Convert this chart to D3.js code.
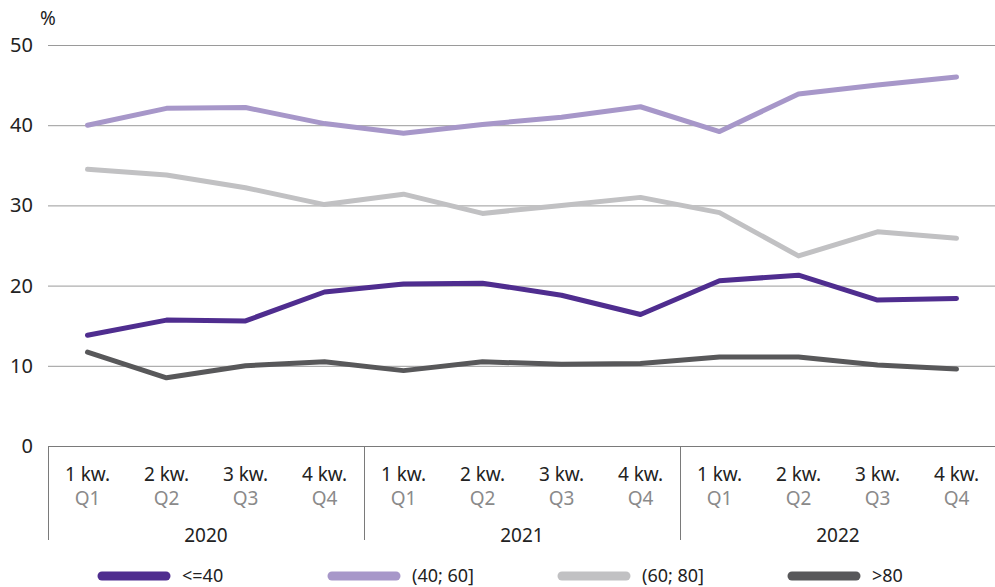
<!DOCTYPE html>
<html><head><meta charset="utf-8">
<script src="https://cdn.jsdelivr.net/npm/d3@7"></script>
<style>body{margin:0;background:#fff}svg{display:block;font-family:"Noto Sans",sans-serif}</style>
</head><body><svg id="c" width="995" height="587"></svg>
<script>
const quarters = ["1 kw.","2 kw.","3 kw.","4 kw.","1 kw.","2 kw.","3 kw.","4 kw.","1 kw.","2 kw.","3 kw.","4 kw."];
const quartersEn = ["Q1","Q2","Q3","Q4","Q1","Q2","Q3","Q4","Q1","Q2","Q3","Q4"];
const years = ["2020","2021","2022"];
const seriesNames = ["<=40","(40; 60]","(60; 80]",">80"];
const colors = ["#4f2d8f","#a797c9","#c1c1c3","#58585a"];
const s1 = [13.8,15.7,15.6,19.2,20.2,20.3,18.8,16.4,20.6,21.3,18.2,18.4];
const s2 = [40.0,42.1,42.2,40.2,39.0,40.1,41.0,42.3,39.2,43.9,45.0,46.0];
const s3 = [34.5,33.8,32.2,30.1,31.4,29.0,30.0,31.0,29.1,23.7,26.7,25.9];
const s4 = [11.7,8.5,10.0,10.5,9.4,10.5,10.2,10.3,11.1,11.1,10.1,9.6];
const yTicks = [0,10,20,30,40,50];
const series = [s1,s2,s3,s4];

const svg = d3.select("#c");
const L = 48, R = 996, T = 45, B = 446;
const idx = d3.range(quarters.length);
const x = d3.scaleBand().domain(idx).range([L,R]);
const y = d3.scaleLinear().domain([0,50]).range([B,T]);

svg.append("g").selectAll("line").data(yTicks.filter(d=>d>0)).join("line")
  .attr("x1",L).attr("x2",R).attr("y1",d=>y(d)+0.5).attr("y2",d=>y(d)+0.5)
  .attr("stroke","#9a9a9a").attr("stroke-width",1);
svg.append("g").selectAll("text").data(yTicks).join("text")
  .attr("x",33).attr("y",d=>y(d)).attr("dy","0.35em").attr("text-anchor","end")
  .attr("font-size",20).attr("fill","#222").text(d=>d);
svg.append("text").attr("x",40).attr("y",25).attr("font-size",19).attr("fill","#222").text("%");

svg.append("line").attr("x1",L).attr("x2",R).attr("y1",B+0.5).attr("y2",B+0.5).attr("stroke","#7a7a7a");
const sepIdx = [0,4,8,12];
svg.append("g").selectAll("line").data(sepIdx).join("line")
  .attr("x1",d=>Math.min(L + d*x.bandwidth(), R-1)+0.5).attr("x2",d=>Math.min(L + d*x.bandwidth(), R-1)+0.5)
  .attr("y1",B).attr("y2",540).attr("stroke","#7a7a7a");
svg.append("g").selectAll("text").data(idx).join("text")
  .attr("x",i=>x(i)+x.bandwidth()/2).attr("y",481).attr("text-anchor","middle")
  .attr("font-size",19).attr("fill","#222").text(i=>quarters[i]);
svg.append("g").selectAll("text").data(idx).join("text")
  .attr("x",i=>x(i)+x.bandwidth()/2).attr("y",505).attr("text-anchor","middle")
  .attr("font-size",19).attr("fill","#8a8a8a").text(i=>quartersEn[i]);
svg.append("g").selectAll("text").data(years).join("text")
  .attr("x",(d,j)=>L + (j*4+2)*x.bandwidth()).attr("y",542).attr("text-anchor","middle")
  .attr("font-size",19).attr("fill","#222").text(d=>d);

const line = d3.line().x((d,i)=>x(i)+x.bandwidth()/2).y(d=>y(d));
svg.append("g").selectAll("path").data(series).join("path")
  .attr("d",line).attr("fill","none").attr("stroke",(d,i)=>colors[i])
  .attr("stroke-width",5).attr("stroke-linejoin","round").attr("stroke-linecap","round");

const lg = svg.append("g").selectAll("g").data(seriesNames).join("g")
  .attr("transform",(d,i)=>`translate(${102+i*230},576)`);
lg.append("line").attr("x1",0).attr("x2",64).attr("stroke",(d,i)=>colors[i])
  .attr("stroke-width",9).attr("stroke-linecap","round");
lg.append("text").attr("x",80).attr("dy","0.33em").attr("font-size",18).attr("fill","#222").text(d=>d);
</script></body></html>
